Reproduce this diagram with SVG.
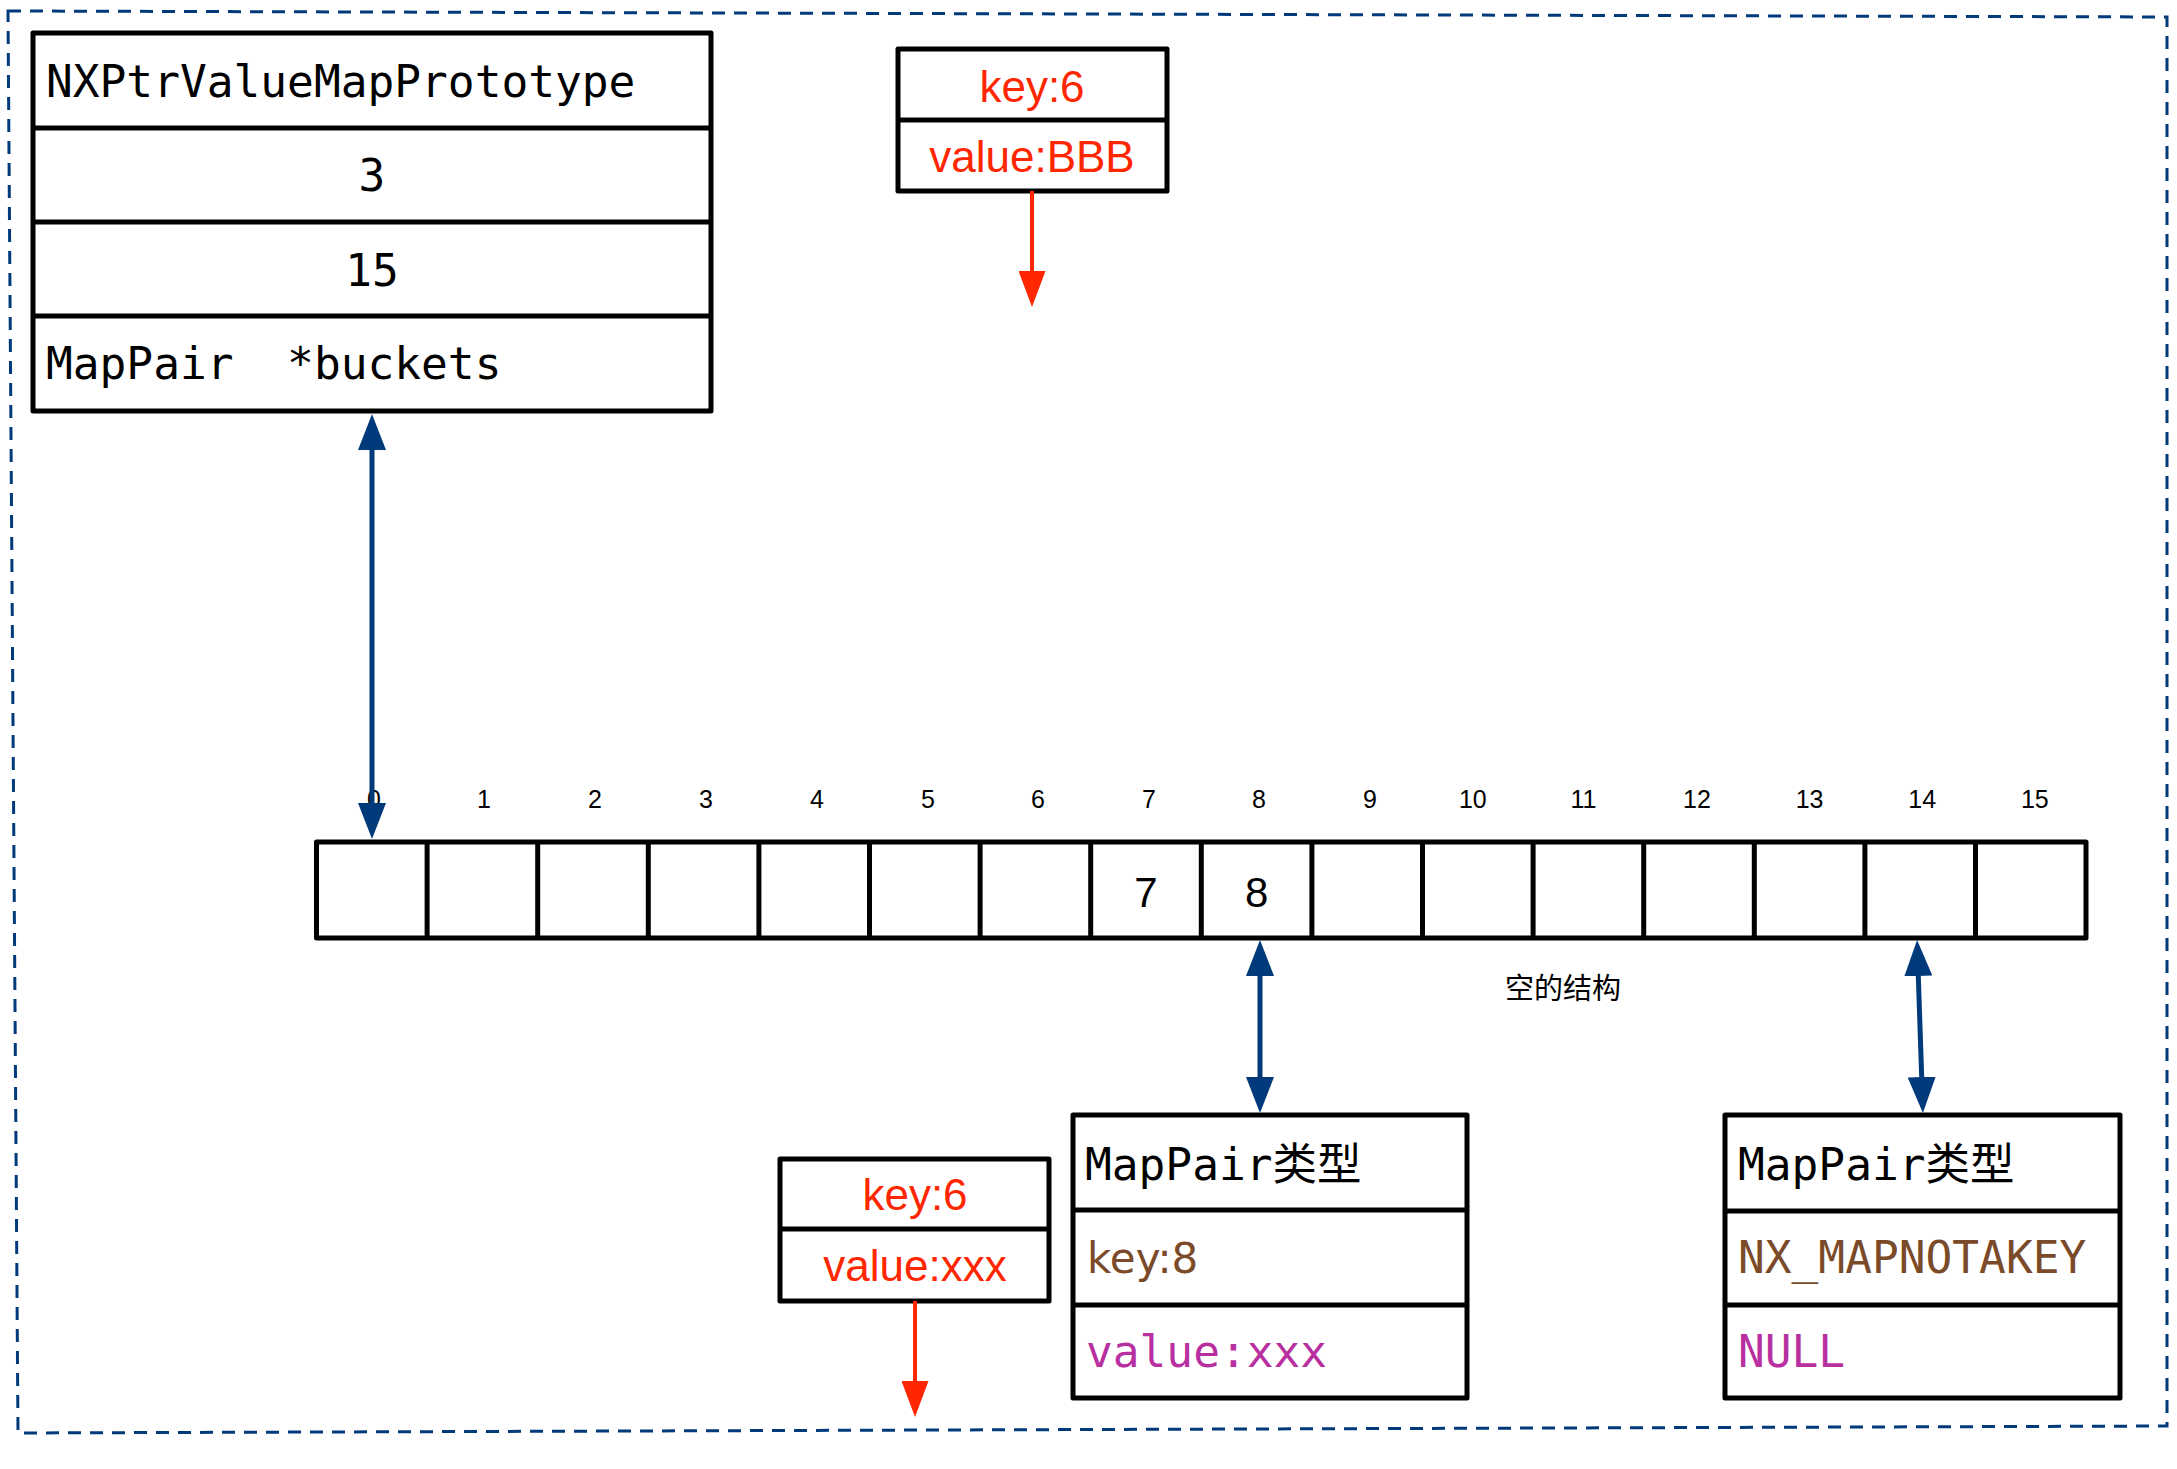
<svg xmlns="http://www.w3.org/2000/svg" width="2177" height="1469" viewBox="0 0 2177 1469">
<style>
.box{fill:#fff;stroke:#000;stroke-width:5;stroke-linejoin:round}
.div{stroke:#000;stroke-width:5}
.mono{font-family:"DejaVu Sans Mono","Noto Sans CJK SC",monospace;font-size:44.5px}
.sans{font-family:"Liberation Sans",Arial,sans-serif}
.red{fill:#ff2600;font-size:44px}
.idx{font-size:25px;fill:#000}
.brown{fill:#7b4a29}
.mag{fill:#b830a0}
.blue{stroke:#003a7a;stroke-width:5;fill:none}
.redl{stroke:#ff2600;stroke-width:4;fill:none}
</style>
<defs>
<marker id="bh" markerUnits="userSpaceOnUse" markerWidth="36" markerHeight="28" refX="0" refY="14" orient="auto-start-reverse" viewBox="0 0 36 28"><path d="M0,0 L36,14 L0,28 Z" fill="#003a7a"/></marker>
<marker id="rh" markerUnits="userSpaceOnUse" markerWidth="36" markerHeight="27" refX="0" refY="13.5" orient="auto" viewBox="0 0 36 27"><path d="M0,0 L36,13.5 L0,27 Z" fill="#ff2600"/></marker>
</defs>
<rect width="2177" height="1469" fill="#fff"/>
<path d="M8,11 L2167,17 L2167,1426 L18,1433 Z" fill="none" stroke="#003a7a" stroke-width="3" stroke-dasharray="13 9"/>

<g id="prototype">
<rect class="box" x="33" y="33" width="678" height="378"/>
<line class="div" x1="33" y1="128" x2="711" y2="128"/>
<line class="div" x1="33" y1="222" x2="711" y2="222"/>
<line class="div" x1="33" y1="316" x2="711" y2="316"/>
<text class="mono" x="46" y="97">NXPtrValueMapPrototype</text>
<text class="mono" x="372" y="191" text-anchor="middle">3</text>
<text class="mono" x="372" y="286" text-anchor="middle">15</text>
<text class="mono" x="46" y="379" xml:space="preserve">MapPair  *buckets</text>
</g>

<g id="pair-top">
<rect class="box" x="898" y="49" width="269" height="142"/>
<line class="div" x1="898" y1="120" x2="1167" y2="120"/>
<text class="sans red" x="1032" y="102" text-anchor="middle">key:6</text>
<text class="sans red" x="1032" y="172" text-anchor="middle">value:BBB</text>
</g>

<g id="buckets">
<rect class="box" x="316.5" y="842" width="1769.5" height="96"/>
<g class="div">
<line x1="427.1" y1="842" x2="427.1" y2="938"/>
<line x1="537.7" y1="842" x2="537.7" y2="938"/>
<line x1="648.3" y1="842" x2="648.3" y2="938"/>
<line x1="758.9" y1="842" x2="758.9" y2="938"/>
<line x1="869.5" y1="842" x2="869.5" y2="938"/>
<line x1="980.1" y1="842" x2="980.1" y2="938"/>
<line x1="1090.7" y1="842" x2="1090.7" y2="938"/>
<line x1="1201.3" y1="842" x2="1201.3" y2="938"/>
<line x1="1311.9" y1="842" x2="1311.9" y2="938"/>
<line x1="1422.5" y1="842" x2="1422.5" y2="938"/>
<line x1="1533.1" y1="842" x2="1533.1" y2="938"/>
<line x1="1643.7" y1="842" x2="1643.7" y2="938"/>
<line x1="1754.3" y1="842" x2="1754.3" y2="938"/>
<line x1="1864.9" y1="842" x2="1864.9" y2="938"/>
<line x1="1975.5" y1="842" x2="1975.5" y2="938"/>
</g>
<g class="sans idx" text-anchor="middle">
<text x="374" y="808">0</text>
<text x="484" y="808">1</text>
<text x="595" y="808">2</text>
<text x="706" y="808">3</text>
<text x="817" y="808">4</text>
<text x="928" y="808">5</text>
<text x="1038" y="808">6</text>
<text x="1149" y="808">7</text>
<text x="1259" y="808">8</text>
<text x="1370" y="808">9</text>
<text x="1472.8" y="808">10</text>
<text x="1583.4" y="808">11</text>
<text x="1697" y="808">12</text>
<text x="1809.6" y="808">13</text>
<text x="1922.2" y="808">14</text>
<text x="2034.8" y="808">15</text>
</g>
<text class="sans" x="1146" y="907" font-size="42" text-anchor="middle">7</text>
<text class="sans" x="1256.6" y="907" font-size="42" text-anchor="middle">8</text>
</g>

<g id="empty-label">
<text x="1563" y="999" font-family="'Noto Sans CJK SC',sans-serif" font-size="29" text-anchor="middle">空的结构</text>
</g>

<g id="pair-bottom">
<rect class="box" x="780" y="1159" width="269" height="142"/>
<line class="div" x1="780" y1="1229" x2="1049" y2="1229"/>
<text class="sans red" x="915" y="1210" text-anchor="middle">key:6</text>
<text class="sans red" x="915" y="1281" text-anchor="middle">value:xxx</text>
</g>

<g id="mappair-8">
<rect class="box" x="1073" y="1115" width="394" height="283"/>
<line class="div" x1="1073" y1="1210" x2="1467" y2="1210"/>
<line class="div" x1="1073" y1="1305" x2="1467" y2="1305"/>
<text class="mono" x="1085" y="1180">MapPair类型</text>
<text class="brown" x="1087" y="1273" font-family="'DejaVu Sans',sans-serif" font-size="42">key:8</text>
<text class="mono mag" x="1086" y="1367">value:xxx</text>
</g>

<g id="mappair-14">
<rect class="box" x="1725" y="1115" width="395" height="283"/>
<line class="div" x1="1725" y1="1211" x2="2120" y2="1211"/>
<line class="div" x1="1725" y1="1305" x2="2120" y2="1305"/>
<text class="mono" x="1738" y="1180">MapPair类型</text>
<text class="mono brown" x="1738" y="1273">NX_MAPNOTAKEY</text>
<text class="mono mag" x="1738" y="1367">NULL</text>
</g>

<g id="connectors">
<line class="blue" x1="372" y1="450" x2="372" y2="803" marker-start="url(#bh)" marker-end="url(#bh)"/>
<line class="blue" x1="1260" y1="976" x2="1260" y2="1077" marker-start="url(#bh)" marker-end="url(#bh)"/>
<line class="blue" x1="1918.3" y1="976" x2="1921.7" y2="1077" marker-start="url(#bh)" marker-end="url(#bh)"/>
<line class="redl" x1="1032" y1="191" x2="1032" y2="271" marker-end="url(#rh)"/>
<line class="redl" x1="915" y1="1301" x2="915" y2="1381" marker-end="url(#rh)"/>
</g>
</svg>
